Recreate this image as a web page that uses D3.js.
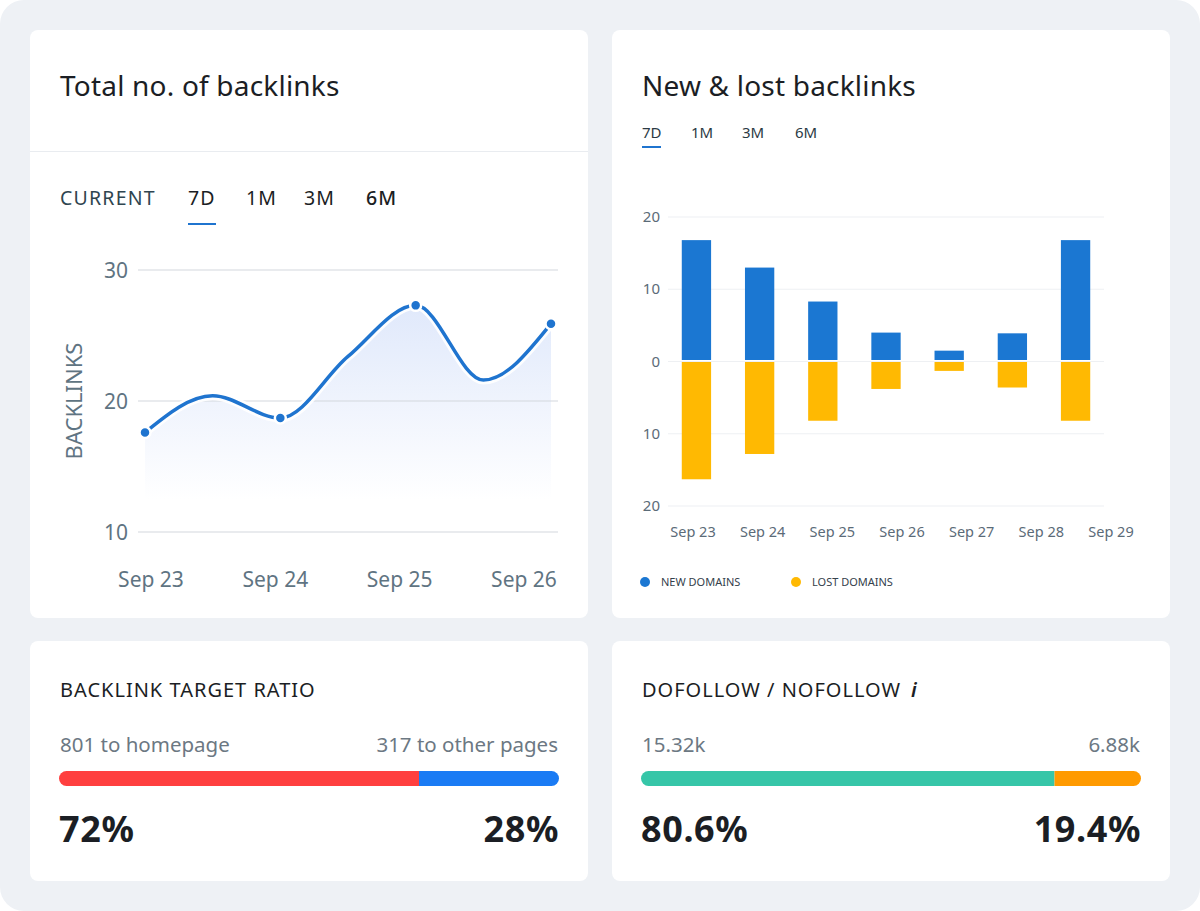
<!DOCTYPE html>
<html>
<head>
<meta charset="utf-8">
<script src="https://cdn.jsdelivr.net/npm/d3@7"></script>
<style>
  html, body { margin: 0; padding: 0; background: #fff; }
  svg { display: block; font-family: "Noto Sans", "Open Sans", sans-serif; }
</style>
</head>
<body>
<svg id="chart" width="1200" height="911"></svg>
<script>
// total backlinks (line) - half-day steps, dots only on whole days
const lineDays = [0, 0.5, 1, 1.5, 2, 2.5, 3];
const lineValues = [17.6, 20.4, 18.7, 23.4, 27.3, 21.6, 25.9];
const lineDates = ['Sep 23', 'Sep 24', 'Sep 25', 'Sep 26'];
const lineTicks = [10, 20, 30];
const lineTabs = ['CURRENT', '7D', '1M', '3M', '6M'];

// new & lost backlinks (bars)
const barDates = ['Sep 23', 'Sep 24', 'Sep 25', 'Sep 26', 'Sep 27', 'Sep 28', 'Sep 29'];
const newDomains = [16.8, 13.0, 8.3, 4.0, 1.5, 3.9, 16.8];
const lostDomains = [16.3, 12.8, 8.2, 3.8, 1.3, 3.6, 8.2];
const barTicks = [20, 10, 0, -10, -20];
const barTabs = ['7D', '1M', '3M', '6M'];
const barLegend = ['NEW DOMAINS', 'LOST DOMAINS'];

// ratio cards
const targetLabels = ['801 to homepage', '317 to other pages'];
const targetShares = [72, 28];
const targetPct = ['72%', '28%'];
const followLabels = ['15.32k', '6.88k'];
const followShares = [82.7, 17.3];
const followPct = ['80.6%', '19.4%'];

const svg = d3.select('#chart');
const defs = svg.append('defs');

svg.append('rect')
    .attr('width', 1200).attr('height', 911)
    .attr('rx', 24).attr('fill', '#eef1f5');

const cards = [
  {x: 30, y: 30, w: 558, h: 588},
  {x: 612, y: 30, w: 558, h: 588},
  {x: 30, y: 641, w: 558, h: 240},
  {x: 612, y: 641, w: 558, h: 240}
];
svg.selectAll('rect.card')
  .data(cards)
  .enter().append('rect')
    .attr('class', 'card')
    .attr('x', d => d.x).attr('y', d => d.y)
    .attr('width', d => d.w).attr('height', d => d.h)
    .attr('rx', 8).attr('fill', '#fff');

// ---------- card 1: total no. of backlinks ----------
const c1 = svg.append('g');
c1.append('text')
    .attr('x', 60).attr('y', 96)
    .attr('font-size', 28).attr('letter-spacing', 0.2).attr('fill', '#1b1e24')
    .text('Total no. of backlinks');
c1.append('line')
    .attr('x1', 30).attr('x2', 588).attr('y1', 151.5).attr('y2', 151.5)
    .attr('stroke', '#e9ecf0');

const tabX1 = [60, 188, 246, 304, 366];
c1.selectAll('text.tab')
  .data(lineTabs)
  .enter().append('text')
    .attr('x', (d, i) => tabX1[i]).attr('y', 205)
    .attr('font-size', 19.5).attr('letter-spacing', 1.2)
    .attr('fill', (d, i) => i === 0 ? '#2f4550' : '#1b1e24')
    .attr('font-weight', (d, i) => i === 4 ? 500 : 400)
    .text(d => d);
c1.append('line')
    .attr('x1', 188).attr('x2', 216).attr('y1', 224).attr('y2', 224)
    .attr('stroke', '#1f74cf').attr('stroke-width', 2);

const x1 = d3.scaleLinear().domain([0, 3]).range([145, 551]);
const y1 = d3.scaleLinear().domain([10, 30]).range([532, 270]);

const pts = lineDays.map((d, i) => [d, lineValues[i]]);
const grad = defs.append('linearGradient')
    .attr('id', 'areaGrad')
    .attr('gradientUnits', 'userSpaceOnUse')
    .attr('x1', 0).attr('x2', 0).attr('y1', 300).attr('y2', 500);
grad.append('stop').attr('offset', 0).attr('stop-color', '#dfe8fb');
grad.append('stop').attr('offset', 1).attr('stop-color', '#ffffff');

const area = d3.area()
    .x(d => x1(d[0]))
    .y0(y1(9))
    .y1(d => y1(d[1]))
    .curve(d3.curveMonotoneX);
const line = d3.line()
    .x(d => x1(d[0]))
    .y(d => y1(d[1]))
    .curve(d3.curveMonotoneX);

c1.append('path').datum(pts)
    .attr('d', area).attr('fill', 'url(#areaGrad)');

c1.selectAll('line.grid')
  .data(lineTicks)
  .enter().append('line')
    .attr('x1', 138).attr('x2', 558)
    .attr('y1', d => y1(d)).attr('y2', d => y1(d))
    .attr('stroke', '#d3d8de').attr('stroke-width', 1.2);
c1.selectAll('text.ytick')
  .data(lineTicks)
  .enter().append('text')
    .attr('x', 128).attr('y', d => y1(d) + 8)
    .attr('text-anchor', 'end')
    .attr('font-size', 21).attr('fill', '#5f7482')
    .text(d => d);
c1.append('text')
    .attr('transform', 'translate(82,401) rotate(-90)')
    .attr('text-anchor', 'middle')
    .attr('font-size', 22).attr('fill', '#5f7482')
    .text('BACKLINKS');
const xt1 = d3.scalePoint().domain(lineDates).range([151, 524]);
c1.selectAll('text.xtick')
  .data(lineDates)
  .enter().append('text')
    .attr('x', d => xt1(d))
    .attr('y', 587)
    .attr('text-anchor', 'middle')
    .attr('font-size', 21).attr('fill', '#5f7482')
    .text(d => d);

c1.append('path').datum(pts)
    .attr('d', line).attr('fill', 'none')
    .attr('stroke', '#ffffff').attr('stroke-width', 9).attr('stroke-opacity', 0.9);
c1.append('path').datum(pts)
    .attr('d', line).attr('fill', 'none')
    .attr('stroke', '#1f74cf').attr('stroke-width', 3.5)
    .attr('stroke-linecap', 'round');
c1.selectAll('circle.dot')
  .data(pts.filter(d => Number.isInteger(d[0])))
  .enter().append('circle')
    .attr('cx', d => x1(d[0])).attr('cy', d => y1(d[1]))
    .attr('r', 5.5)
    .attr('fill', '#1f74cf').attr('stroke', '#fff').attr('stroke-width', 2.5);

// ---------- card 2: new & lost backlinks ----------
const c2 = svg.append('g');
c2.append('text')
    .attr('x', 642).attr('y', 96)
    .attr('font-size', 28).attr('letter-spacing', 0.2).attr('fill', '#1b1e24')
    .text('New & lost backlinks');
const tabX2 = [642, 691, 742, 795];
c2.selectAll('text.tab')
  .data(barTabs)
  .enter().append('text')
    .attr('x', (d, i) => tabX2[i]).attr('y', 138)
    .attr('font-size', 15).attr('fill', '#2b3a44')
    .text(d => d);
c2.append('line')
    .attr('x1', 642).attr('x2', 661).attr('y1', 147).attr('y2', 147)
    .attr('stroke', '#1f74cf').attr('stroke-width', 2);

const xb = d3.scaleBand().domain(barDates).range([668, 1104])
    .paddingInner(0.536).paddingOuter(0.218);
const xl = d3.scalePoint().domain(barDates).range([693, 1111]);
const yb = d3.scaleLinear().domain([-20, 20]).range([506, 217]);

c2.selectAll('line.grid')
  .data(barTicks)
  .enter().append('line')
    .attr('x1', 668).attr('x2', 1104)
    .attr('y1', d => yb(d)).attr('y2', d => yb(d))
    .attr('stroke', '#eef0f3').attr('stroke-width', 1.2);
c2.selectAll('text.ytick')
  .data(barTicks)
  .enter().append('text')
    .attr('x', 660).attr('y', d => yb(d) + 5)
    .attr('text-anchor', 'end')
    .attr('font-size', 15).attr('fill', '#5b6b78')
    .text(d => Math.abs(d));
c2.selectAll('text.xtick')
  .data(barDates)
  .enter().append('text')
    .attr('x', d => xl(d)).attr('y', 537)
    .attr('text-anchor', 'middle')
    .attr('font-size', 14.5).attr('fill', '#5b6b78')
    .text(d => d);

c2.selectAll('rect.new')
  .data(newDomains)
  .enter().append('rect')
    .attr('x', (d, i) => xb(barDates[i]))
    .attr('width', xb.bandwidth())
    .attr('y', d => yb(d))
    .attr('height', d => yb(0) - yb(d) - 1.5)
    .attr('fill', '#1b77d2');
c2.selectAll('rect.lost')
  .data(lostDomains)
  .enter().append('rect')
    .attr('x', (d, i) => xb(barDates[i]))
    .attr('width', xb.bandwidth())
    .attr('y', yb(0) + 0.5)
    .attr('height', d => yb(-d) - yb(0) - 0.5)
    .attr('fill', '#ffb902');

const legendX = [645, 796];
const legendColors = ['#1b77d2', '#ffb902'];
const lg = c2.selectAll('g.legend')
  .data(barLegend)
  .enter().append('g')
    .attr('transform', (d, i) => 'translate(' + legendX[i] + ',582)');
lg.append('circle').attr('r', 5).attr('fill', (d, i) => legendColors[i]);
lg.append('text')
    .attr('x', 16).attr('y', 4)
    .attr('font-size', 11).attr('fill', '#34414b')
    .text(d => d);

// ---------- ratio cards ----------
function ratioCard(ox, title, labels, shares, pcts, colors, info) {
  const g = svg.append('g');
  const t = g.append('text')
      .attr('x', ox + 30).attr('y', 697)
      .attr('font-size', 20).attr('letter-spacing', 1).attr('fill', '#1b1e24')
      .text(title);
  if (info) {
    t.append('tspan')
        .attr('dx', 10).attr('font-style', 'italic').attr('font-weight', 600)
        .text('i');
  }
  g.append('text')
      .attr('x', ox + 30).attr('y', 752)
      .attr('font-size', 20.5).attr('fill', '#6c7883')
      .text(labels[0]);
  g.append('text')
      .attr('x', ox + 528).attr('y', 752).attr('text-anchor', 'end')
      .attr('font-size', 20.5).attr('fill', '#6c7883')
      .text(labels[1]);

  const xs = d3.scaleLinear().domain([0, 100]).range([ox + 29, ox + 529]);
  const clipId = 'clip' + ox;
  defs.append('clipPath').attr('id', clipId)
    .append('rect')
      .attr('x', ox + 29).attr('y', 771).attr('width', 500).attr('height', 15)
      .attr('rx', 7.5);
  const stacked = [[0, shares[0]], [shares[0], shares[0] + shares[1]]];
  g.append('g').attr('clip-path', 'url(#' + clipId + ')')
    .selectAll('rect')
    .data(stacked)
    .enter().append('rect')
      .attr('x', d => xs(d[0]))
      .attr('width', d => xs(d[1]) - xs(d[0]))
      .attr('y', 771).attr('height', 15)
      .attr('fill', (d, i) => colors[i]);

  g.append('text')
      .attr('x', ox + 29).attr('y', 842)
      .attr('font-size', 36).attr('font-weight', 700).attr('letter-spacing', 0.6)
      .attr('fill', '#1b1e24')
      .text(pcts[0]);
  g.append('text')
      .attr('x', ox + 529).attr('y', 842).attr('text-anchor', 'end')
      .attr('font-size', 36).attr('font-weight', 700).attr('letter-spacing', 0.6)
      .attr('fill', '#1b1e24')
      .text(pcts[1]);
}

ratioCard(30, 'BACKLINK TARGET RATIO', targetLabels, targetShares, targetPct,
  ['#ff3f3f', '#1a7bf4'], false);
ratioCard(612, 'DOFOLLOW / NOFOLLOW', followLabels, followShares, followPct,
  ['#36c6a8', '#ff9a00'], true);
</script>
</body>
</html>
